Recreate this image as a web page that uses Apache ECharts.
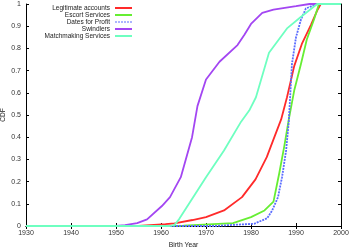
<!DOCTYPE html>
<html>
<head>
<meta charset="utf-8">
<script src="https://cdn.jsdelivr.net/npm/echarts@6/dist/echarts.min.js"></script>
<style>
  html, body { margin: 0; padding: 0; background: #fff; }
  #chart { width: 350px; height: 247px; }
</style>
</head>
<body>
<div id="chart"></div>
<script>
// birth year CDFs
var seriesNames = ['Legitimate accounts', 'Escort Services', 'Dates for Profit', 'Swindlers', 'Matchmaking Services'];

var legitYears = [1930, 1955, 1961, 1963, 1967, 1970, 1974, 1978, 1981, 1983.5, 1985, 1986.7, 1988, 1989.6, 1991.3, 1993.3, 1994.7, 1995.5, 2000];
var legitCdf   = [0, 0, 0.008, 0.012, 0.027, 0.04, 0.07, 0.13, 0.21, 0.31, 0.39, 0.48, 0.58, 0.72, 0.82, 0.905, 0.97, 1, 1];

var escortYears = [1930, 1965, 1976, 1980, 1983, 1985, 1986.3, 1987.4, 1988.4, 1989.6, 1991.1, 1992.4, 1994, 1995.1, 2000];
var escortCdf   = [0, 0.002, 0.013, 0.04, 0.07, 0.11, 0.24, 0.36, 0.48, 0.61, 0.73, 0.84, 0.93, 1, 1];

var datesYears = [1930, 1972, 1975, 1980.7, 1983.6, 1984.7, 1986, 1986.9, 1987.8, 1988.4, 1989.1, 1990, 1991.1, 1992.2, 1994.6, 2000];
var datesCdf   = [0, 0, 0.004, 0.01, 0.035, 0.07, 0.13, 0.22, 0.34, 0.47, 0.73, 0.85, 0.93, 0.98, 1, 1];

var swindYears = [1930, 1950, 1952, 1954.7, 1956.9, 1960.2, 1962, 1964.4, 1966.9, 1968.1, 1970, 1973, 1977, 1978.5, 1980, 1982.5, 1985, 1990, 1993, 2000];
var swindCdf   = [0, 0, 0.004, 0.013, 0.03, 0.09, 0.13, 0.22, 0.40, 0.54, 0.66, 0.74, 0.815, 0.86, 0.91, 0.96, 0.975, 0.99, 1, 1];

var matchYears = [1930, 1962, 1963, 1964, 1970, 1974, 1977.8, 1979.6, 1981.1, 1984, 1988, 1991, 1994.7, 2000];
var matchCdf   = [0, 0, 0.005, 0.03, 0.22, 0.34, 0.47, 0.52, 0.58, 0.78, 0.89, 0.94, 1, 1];

var colors = ['#ff2a2a', '#66ee33', '#5a6cff', '#a346f2', '#6effc0'];

function pairs(xs, ys) {
    var out = [];
    for (var i = 0; i < xs.length; i++) {
        out.push([xs[i], ys[i]]);
    }
    return out;
}

var chart = echarts.init(document.getElementById('chart'));

var fontFam = "'Liberation Sans', Arial, sans-serif";
var allData = [
    pairs(legitYears, legitCdf),
    pairs(escortYears, escortCdf),
    pairs(datesYears, datesCdf),
    pairs(swindYears, swindCdf),
    pairs(matchYears, matchCdf)
];

// dashed sample for the dotted series
var dashIcon = 'path://M0,0h2v1h-2z M3,0h2v1h-2z M6,0h2v1h-2z M9,0h2v1h-2z M12,0h2v1h-2z M15,0h2v1h-2z';

var series = [];
var legendData = [];
for (var i = 0; i < seriesNames.length; i++) {
    series.push({
        name: seriesNames[i],
        type: 'line',
        data: allData[i],
        showSymbol: false,
        symbol: 'none',
        lineStyle: {
            color: colors[i],
            width: 1.8,
            type: i === 2 ? [2, 1] : 'solid'
        },
        itemStyle: { color: colors[i] }
    });
    legendData.push({ name: seriesNames[i], icon: i === 2 ? dashIcon : 'rect' });
}

var option = {
    animation: false,
    grid: { left: 26, right: 9, top: 4, bottom: 21, containLabel: false, outerBoundsMode: 'none' },
    legend: {
        data: legendData,
        orient: 'vertical',
        align: 'right',
        right: 218,
        top: 4.5,
        padding: 0,
        itemWidth: 17,
        itemHeight: 2,
        itemGap: 0,
        textStyle: { fontSize: 6.5, color: '#222', fontFamily: fontFam, lineHeight: 6.9 }
    },
    xAxis: [{
        type: 'value',
        min: 1930,
        max: 2000,
        interval: 10,
        name: 'Birth Year',
        nameLocation: 'middle',
        nameGap: 16,
        nameMoveOverlap: false,
        nameTextStyle: { fontSize: 6.8, color: '#222', fontFamily: fontFam },
        axisLine: { lineStyle: { color: '#000', width: 1 } },
        axisTick: { inside: true, length: 3, lineStyle: { color: '#000' } },
        axisLabel: {
            fontSize: 7, color: '#333', fontFamily: fontFam, margin: 4,
            formatter: function (v) { return String(v); }
        },
        splitLine: { show: false }
    }, {
        type: 'value',
        position: 'top',
        min: 1930,
        max: 2000,
        interval: 10,
        axisLine: { lineStyle: { color: '#000', width: 1 } },
        axisTick: { inside: true, length: 3, lineStyle: { color: '#000' } },
        axisLabel: { show: false },
        splitLine: { show: false }
    }],
    yAxis: [{
        type: 'value',
        min: 0,
        max: 1,
        interval: 0.1,
        name: 'CDF',
        nameLocation: 'middle',
        nameGap: 19,
        nameRotate: 90,
        nameMoveOverlap: false,
        nameTextStyle: { fontSize: 6.5, color: '#222', fontFamily: fontFam },
        axisLine: { show: true, lineStyle: { color: '#000', width: 1 } },
        axisTick: { show: true, inside: true, length: 3, lineStyle: { color: '#000' } },
        axisLabel: {
            fontSize: 7, color: '#333', fontFamily: fontFam, margin: 5,
            formatter: function (v) { return String(Math.round(v * 10) / 10); }
        },
        splitLine: { show: false }
    }, {
        type: 'value',
        position: 'right',
        min: 0,
        max: 1,
        interval: 0.1,
        axisLine: { show: true, lineStyle: { color: '#000', width: 1 } },
        axisTick: { show: true, inside: true, length: 3, lineStyle: { color: '#000' } },
        axisLabel: { show: false },
        splitLine: { show: false }
    }],
    series: series
};

chart.setOption(option);
</script>
</body>
</html>
